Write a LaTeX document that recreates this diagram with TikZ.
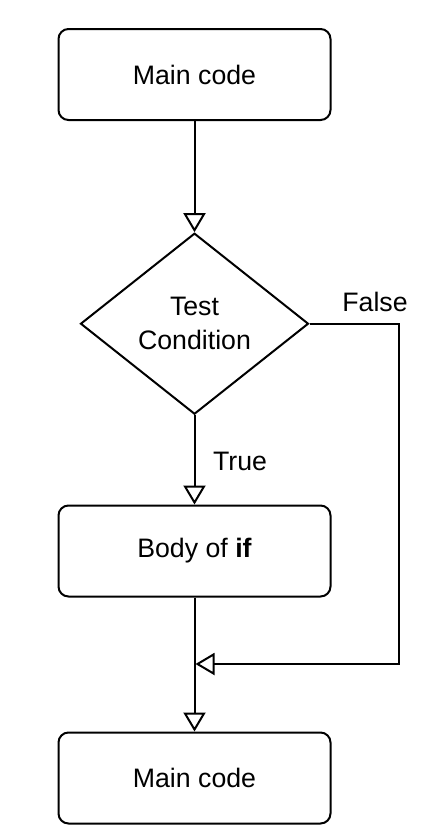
\documentclass[tikz,border=0pt]{standalone}
\usepackage{fontspec}
\setmainfont{Liberation Sans}
\usetikzlibrary{shapes.geometric,arrows.meta}
\begin{document}
\begin{tikzpicture}[x=1pt,y=1pt,
  every node/.style={font=\fontsize{26.7}{34}\selectfont},
  procbox/.style={draw, line width=2pt, rounded corners=10pt, minimum width=272pt, minimum height=91pt, inner sep=0pt},
  decbox/.style={draw, line width=2pt, diamond, shape aspect=1.26, minimum width=228pt, minimum height=181pt, inner sep=0pt, align=center},
  arr/.style={line width=2pt, -{Triangle[open, length=19pt, width=22pt]}},
  lbl/.style={inner sep=0pt}
]
\useasboundingbox (0,0) rectangle (444,-833);
\node[procbox] (top) at (194.5,-74.5) {Main code};
\node[decbox] (cond) at (194.5,-323.7) {Test\\Condition};
\node[procbox] (body) at (194.5,-551) {Body of \textbf{if}};
\node[procbox] (bot) at (194.5,-778) {Main code};
\coordinate (c1) at (399.3,-323.7);
\coordinate (m) at (195.5,-664);
\node[lbl] (tlbl) at (240,-461) {True};
\node[lbl] (flbl) at (375,-302) {False};
\draw[arr] (top) -- (cond);
\draw[arr] (cond) -- (body);
\draw[arr] (body) -- (bot);
\draw[arr] (cond.east) -- (c1) |- (m);
\end{tikzpicture}
\end{document}
